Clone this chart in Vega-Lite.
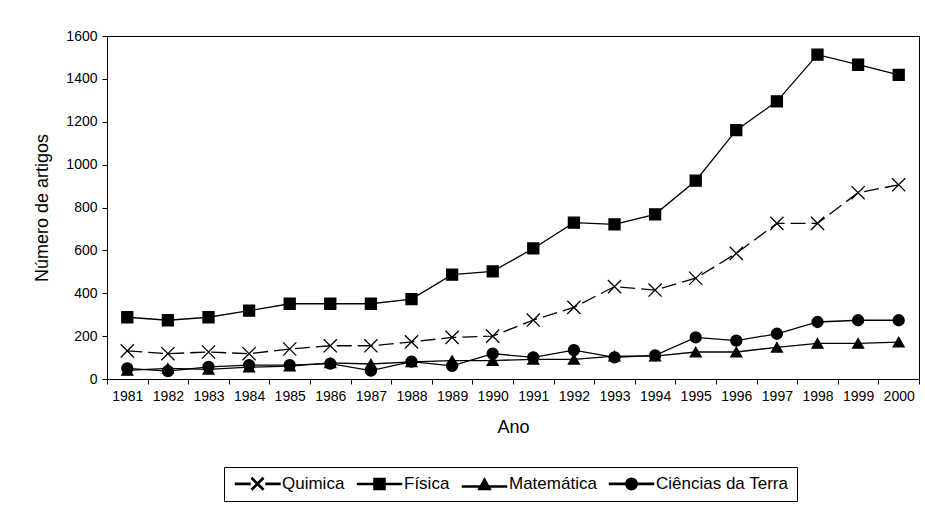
{
  "$schema": "https://vega.github.io/schema/vega-lite/v6.json",
  "width": 812,
  "height": 343,
  "autosize": {"type": "none"},
  "padding": {"left": 107, "top": 36, "right": 6, "bottom": 128},
  "background": "white",
  "config": {
    "font": "Liberation Sans",
    "view": {"stroke": "black", "strokeWidth": 1},
    "axis": {
      "domainColor": "black",
      "tickColor": "black",
      "labelColor": "black",
      "titleColor": "black",
      "labelFont": "Liberation Sans",
      "titleFont": "Liberation Sans",
      "labelFontSize": 14,
      "titleFontSize": 18,
      "titleFontWeight": "normal",
      "grid": false,
      "tickSize": 5
    }
  },
  "data": {
    "values": [
      {"ano": "1981", "serie": "Quimica", "valor": 131},
      {"ano": "1982", "serie": "Quimica", "valor": 118},
      {"ano": "1983", "serie": "Quimica", "valor": 126},
      {"ano": "1984", "serie": "Quimica", "valor": 118},
      {"ano": "1985", "serie": "Quimica", "valor": 140},
      {"ano": "1986", "serie": "Quimica", "valor": 155},
      {"ano": "1987", "serie": "Quimica", "valor": 155},
      {"ano": "1988", "serie": "Quimica", "valor": 173},
      {"ano": "1989", "serie": "Quimica", "valor": 194},
      {"ano": "1990", "serie": "Quimica", "valor": 200},
      {"ano": "1991", "serie": "Quimica", "valor": 275},
      {"ano": "1992", "serie": "Quimica", "valor": 334},
      {"ano": "1993", "serie": "Quimica", "valor": 431},
      {"ano": "1994", "serie": "Quimica", "valor": 415},
      {"ano": "1995", "serie": "Quimica", "valor": 470},
      {"ano": "1996", "serie": "Quimica", "valor": 586},
      {"ano": "1997", "serie": "Quimica", "valor": 726},
      {"ano": "1998", "serie": "Quimica", "valor": 726},
      {"ano": "1999", "serie": "Quimica", "valor": 869},
      {"ano": "2000", "serie": "Quimica", "valor": 906},
      {"ano": "1981", "serie": "Física", "valor": 288},
      {"ano": "1982", "serie": "Física", "valor": 274},
      {"ano": "1983", "serie": "Física", "valor": 288},
      {"ano": "1984", "serie": "Física", "valor": 319},
      {"ano": "1985", "serie": "Física", "valor": 351},
      {"ano": "1986", "serie": "Física", "valor": 351},
      {"ano": "1987", "serie": "Física", "valor": 351},
      {"ano": "1988", "serie": "Física", "valor": 373},
      {"ano": "1989", "serie": "Física", "valor": 487},
      {"ano": "1990", "serie": "Física", "valor": 502},
      {"ano": "1991", "serie": "Física", "valor": 609},
      {"ano": "1992", "serie": "Física", "valor": 729},
      {"ano": "1993", "serie": "Física", "valor": 721},
      {"ano": "1994", "serie": "Física", "valor": 768},
      {"ano": "1995", "serie": "Física", "valor": 925},
      {"ano": "1996", "serie": "Física", "valor": 1161},
      {"ano": "1997", "serie": "Física", "valor": 1295},
      {"ano": "1998", "serie": "Física", "valor": 1513},
      {"ano": "1999", "serie": "Física", "valor": 1466},
      {"ano": "2000", "serie": "Física", "valor": 1419},
      {"ano": "1981", "serie": "Matemática", "valor": 40},
      {"ano": "1982", "serie": "Matemática", "valor": 50},
      {"ano": "1983", "serie": "Matemática", "valor": 45},
      {"ano": "1984", "serie": "Matemática", "valor": 55},
      {"ano": "1985", "serie": "Matemática", "valor": 60},
      {"ano": "1986", "serie": "Matemática", "valor": 75},
      {"ano": "1987", "serie": "Matemática", "valor": 70},
      {"ano": "1988", "serie": "Matemática", "valor": 80},
      {"ano": "1989", "serie": "Matemática", "valor": 86},
      {"ano": "1990", "serie": "Matemática", "valor": 86},
      {"ano": "1991", "serie": "Matemática", "valor": 92},
      {"ano": "1992", "serie": "Matemática", "valor": 92},
      {"ano": "1993", "serie": "Matemática", "valor": 107},
      {"ano": "1994", "serie": "Matemática", "valor": 107},
      {"ano": "1995", "serie": "Matemática", "valor": 126},
      {"ano": "1996", "serie": "Matemática", "valor": 126},
      {"ano": "1997", "serie": "Matemática", "valor": 148},
      {"ano": "1998", "serie": "Matemática", "valor": 166},
      {"ano": "1999", "serie": "Matemática", "valor": 166},
      {"ano": "2000", "serie": "Matemática", "valor": 172},
      {"ano": "1981", "serie": "Ciências da Terra", "valor": 50},
      {"ano": "1982", "serie": "Ciências da Terra", "valor": 37},
      {"ano": "1983", "serie": "Ciências da Terra", "valor": 57},
      {"ano": "1984", "serie": "Ciências da Terra", "valor": 65},
      {"ano": "1985", "serie": "Ciências da Terra", "valor": 65},
      {"ano": "1986", "serie": "Ciências da Terra", "valor": 72},
      {"ano": "1987", "serie": "Ciências da Terra", "valor": 39},
      {"ano": "1988", "serie": "Ciências da Terra", "valor": 81},
      {"ano": "1989", "serie": "Ciências da Terra", "valor": 61},
      {"ano": "1990", "serie": "Ciências da Terra", "valor": 118},
      {"ano": "1991", "serie": "Ciências da Terra", "valor": 101},
      {"ano": "1992", "serie": "Ciências da Terra", "valor": 135},
      {"ano": "1993", "serie": "Ciências da Terra", "valor": 101},
      {"ano": "1994", "serie": "Ciências da Terra", "valor": 110},
      {"ano": "1995", "serie": "Ciências da Terra", "valor": 194},
      {"ano": "1996", "serie": "Ciências da Terra", "valor": 179},
      {"ano": "1997", "serie": "Ciências da Terra", "valor": 211},
      {"ano": "1998", "serie": "Ciências da Terra", "valor": 266},
      {"ano": "1999", "serie": "Ciências da Terra", "valor": 274},
      {"ano": "2000", "serie": "Ciências da Terra", "valor": 274}
    ]
  },
  "encoding": {
    "x": {
      "field": "ano",
      "type": "ordinal",
      "scale": {"type": "band", "paddingInner": 0, "paddingOuter": 0},
      "axis": {"title": "Ano", "labelAngle": 0, "tickBand": "extent", "labelPadding": 5, "titlePadding": 15}
    },
    "y": {
      "field": "valor",
      "type": "quantitative",
      "scale": {"domain": [0, 1600], "nice": false},
      "axis": {"title": "Número de artigos", "format": "d", "values": [0, 200, 400, 600, 800, 1000, 1200, 1400, 1600], "labelPadding": 5, "titlePadding": 14}
    }
  },
  "resolve": {"scale": {"shape": "independent"}, "legend": {"shape": "independent"}},
  "layer": [
    {
      "transform": [{"filter": "datum.serie !== 'Quimica'"}],
      "mark": {"type": "line", "color": "black", "strokeWidth": 1.3},
      "encoding": {"detail": {"field": "serie"}}
    },
    {
      "transform": [{"filter": "datum.serie === 'Quimica'"}],
      "mark": {"type": "line", "color": "black", "strokeWidth": 1.3, "strokeDash": [15, 6]},
      "encoding": {}
    },
    {
      "mark": {"type": "point", "filled": true, "color": "black", "stroke": "black", "strokeWidth": 1.3, "opacity": 1, "size": 121},
      "encoding": {
        "shape": {
          "field": "serie",
          "type": "nominal",
          "scale": {"domain": ["Quimica", "Física", "Matemática", "Ciências da Terra"], "range": ["M-1.2,-1.2L1.2,1.2M1.2,-1.2L-1.2,1.2", "square", "triangle-up", "circle"]},
          "legend": null
        }
      }
    },
    {
      "mark": {"type": "point", "filled": true, "color": "black", "stroke": "black", "strokeWidth": 1.2, "opacity": 0, "size": 100},
      "encoding": {
        "shape": {
          "field": "serie",
          "type": "nominal",
          "scale": {
            "domain": ["Quimica", "Física", "Matemática", "Ciências da Terra"],
            "range": [
              "M-1,-0.12L1.9,-0.12L1.9,0.12L-1,0.12ZM5.1,-0.12L7.9,-0.12L7.9,0.12L5.1,0.12ZM2.385,-1.185L4.585,1.015L4.415,1.185L2.215,-1.015ZM4.415,-1.185L4.585,-1.015L2.385,1.185L2.215,1.015Z",
              "M-1,-0.12L7.8,-0.12L7.8,0.12L-1,0.12ZM2.3,-1.1L4.5,-1.1L4.5,1.1L2.3,1.1Z",
              "M-1,0.38L7.8,0.38L7.8,0.62L-1,0.62ZM3.4,-1.1L4.6,1.1L2.2,1.1Z",
              "M-1,-0.12L7.8,-0.12L7.8,0.12L-1,0.12ZM4.55,0A1.15,1.15,0,1,1,2.25,0A1.15,1.15,0,1,1,4.55,0Z"
            ]
          },
          "legend": {
            "title": null,
            "orient": "none",
            "legendX": 117,
            "legendY": 431,
            "direction": "horizontal",
            "strokeColor": "black",
            "padding": 8,
            "labelFont": "Liberation Sans",
            "labelFontSize": 17,
            "labelColor": "black",
            "labelOffset": 33,
            "columnPadding": 9,
            "symbolSize": 100,
            "symbolOpacity": 1,
            "symbolFillColor": "black",
            "encode": {
              "symbols": {
                "fill": {"value": "black"},
                "fillOpacity": {"value": 1},
                "opacity": {"value": 1}
              }
            }
          }
        }
      }
    }
  ]
}
